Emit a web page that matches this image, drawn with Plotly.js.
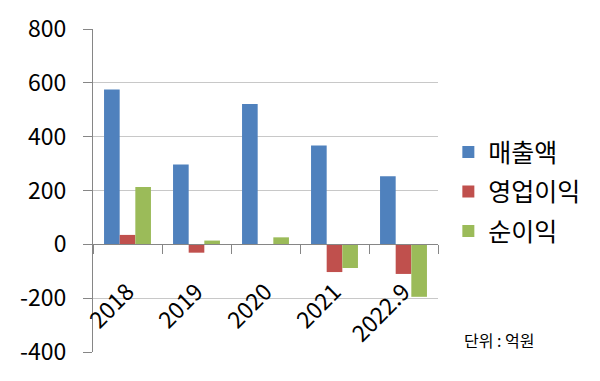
<!DOCTYPE html>
<html>
<head>
<meta charset="utf-8">
<script src="https://cdn.plot.ly/plotly-3.0.1.min.js"></script>
<style>html,body{margin:0;padding:0;background:#fff;}#chart{width:600px;height:381px;}</style>
</head>
<body>
<div id="chart"></div>
<script>
const categories = ["2018", "2019", "2020", "2021", "2022.9"];
const seriesNames = ["매출액", "영업이익", "순이익"];
const sales = [575, 297, 521, 367, 253];
const operatingProfit = [35, -31, 0, -103, -110];
const netProfit = [213, 14, 26, -88, -195];
const yTicks = [-400, -200, 0, 200, 400, 600, 800];
const unitLabel = "단위 : 억원";

const colors = ["#4F81BD", "#C0504D", "#9BBB59"];
const font = "'Noto Sans CJK KR', 'Noto Sans', sans-serif";
const values = [sales, operatingProfit, netProfit];

const data = values.map((v, i) => ({
  type: "bar",
  name: seriesNames[i],
  x: categories,
  y: v,
  marker: {color: colors[i]},
  legendgroup: "g" + i,
  hoverinfo: "x+y"
}));

const layout = {
  width: 600,
  height: 381,
  margin: {l: 93, r: 162, t: 29, b: 29},
  paper_bgcolor: "#ffffff",
  plot_bgcolor: "#ffffff",
  font: {family: font, color: "#000000", size: 23},
  barmode: "group",
  bargap: 0.32,
  bargroupgap: 0,
  showlegend: true,
  legend: {
    x: 1.03, y: 0.69, xanchor: "left", yanchor: "top",
    font: {family: font, size: 25, color: "#000"},
    tracegroupgap: 4,
    itemwidth: 30,
    bgcolor: "rgba(0,0,0,0)"
  },
  xaxis: {
    type: "category",
    range: [-0.5, 4.5],
    anchor: "free",
    position: 1/3,
    showline: true,
    linecolor: "#868686",
    linewidth: 1,
    ticks: "outside",
    tickson: "boundaries",
    ticklen: 9,
    tickcolor: "#868686",
    tickangle: -45,
    tickfont: {family: font, size: 23, color: "#000"},
    ticklabelstandoff: 24,
    showgrid: false,
    zeroline: false
  },
  yaxis: {
    range: [-400, 800],
    tickvals: yTicks,
    ticktext: yTicks.map(String),
    showline: true,
    linecolor: "#868686",
    linewidth: 1,
    ticks: "outside",
    ticklen: 9,
    tickcolor: "#868686",
    showgrid: true,
    gridcolor: "#C8C8C8",
    gridwidth: 1,
    zeroline: false,
    tickfont: {family: font, size: 23, color: "#000"},
    ticklabelstandoff: 12
  },
  annotations: [{
    text: unitLabel,
    xref: "paper", yref: "paper",
    x: 1.07, y: 0.037,
    xanchor: "left", yanchor: "middle",
    showarrow: false,
    font: {family: font, size: 16, color: "#000"}
  }]
};

Plotly.newPlot("chart", data, layout, {displayModeBar: false, staticPlot: true});
</script>
</body>
</html>
